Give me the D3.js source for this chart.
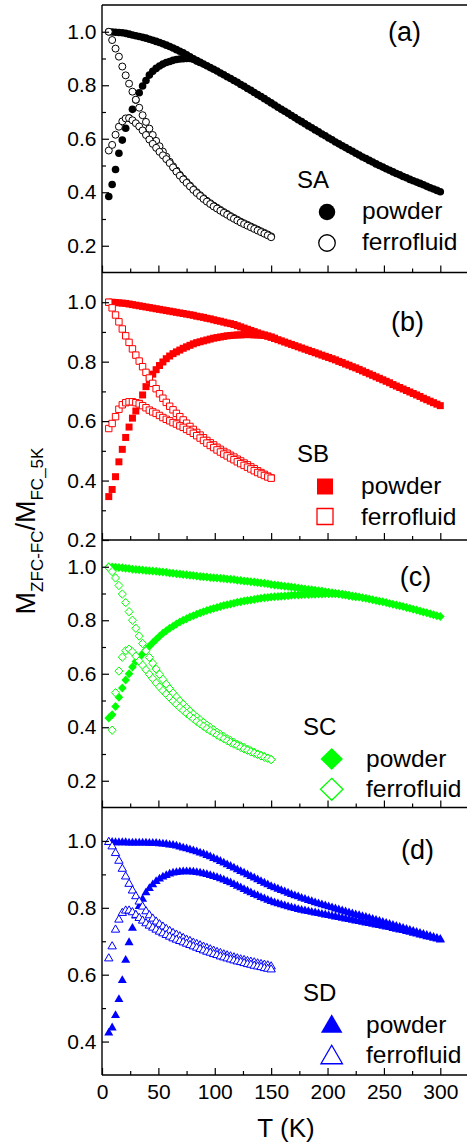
<!DOCTYPE html>
<html>
<head>
<meta charset="utf-8">
<script src="https://cdn.jsdelivr.net/npm/d3@7"></script>
<style>
  html, body { margin: 0; padding: 0; background: #fff; }
  svg { display: block; }
  text { font-family: "Liberation Sans", Arial, Helvetica, sans-serif; fill: #000; }
</style>
</head>
<body>
<svg id="chart" width="467" height="1147"></svg>
<script>
// ---- Temperature grids (K) ----
const powderT = [6,9,12,15,18,21,24,27,30,33,36,39,42,45,48,51,54,57,60,63,66,69,72,75,78,81,84,87,90,93,96,99,102,105,108,111,114,117,120,123,126,129,132,135,138,141,144,147,150,153,156,159,162,165,168,171,174,177,180,183,186,189,192,195,198,201,204,207,210,213,216,219,222,225,228,231,234,237,240,243,246,249,252,255,258,261,264,267,270,273,276,279,282,285,288,291,294,297,300];
const ferroT = [6,9,12,15,18,21,24,27,30,33,36,39,42,45,48,51,54,57,60,63,66,69,72,75,78,81,84,87,90,93,96,99,102,105,108,111,114,117,120,123,126,129,132,135,138,141,144,147,150];

// ---- Sample SA ----
const saPowderFC = [1.000,0.999,0.998,0.997,0.996,0.994,0.991,0.988,0.985,0.982,0.979,0.976,0.972,0.968,0.964,0.960,0.955,0.950,0.945,0.939,0.933,0.927,0.921,0.914,
  0.906,0.899,0.892,0.886,0.879,0.873,0.866,0.860,0.853,0.846,0.839,0.832,0.825,0.818,0.811,0.803,0.796,0.788,0.781,0.773,0.765,0.758,0.750,0.742,0.734,0.726,0.718,0.710,0.703,0.695,0.687,0.679,0.671,0.664,0.656,0.648,0.641,0.633,0.626,0.618,0.611,0.603,0.596,0.588,0.581,0.574,0.567,0.560,0.553,0.546,0.539,0.532,0.526,0.519,0.513,0.506,0.500,0.494,0.488,0.482,0.476,0.470,0.465,0.459,0.454,0.448,0.443,0.438,0.433,0.428,0.422,0.417,0.412,0.407,0.402];
const saPowderZFC = [0.384,0.429,0.485,0.546,0.595,0.639,0.677,0.710,0.745,0.772,0.797,0.818,0.838,0.852,0.863,0.872,0.879,0.885,0.889,0.893,0.896,0.898,0.899,0.900,0.900,0.897,0.891,0.885];
const saFerroFC = [1.000,0.969,0.937,0.907,0.870,0.837,0.806,0.776,0.746,0.716,0.688,0.663,0.638,0.614,0.592,0.572,0.552,0.533,0.514,0.497,0.481,0.465,0.451,0.438,0.425,0.412,0.400,0.389,0.378,0.368,0.359,0.350,0.342,0.334,0.326,0.319,0.311,0.304,0.297,0.290,0.284,0.278,0.272,0.266,0.260,0.254,0.248,0.242,0.235];
const saFerroZFC = [0.556,0.577,0.615,0.645,0.665,0.676,0.677,0.669,0.658,0.646,0.631,0.614,0.597,0.581,0.566,0.551,0.538,0.524,0.509,0.493,0.477,0.462,0.448,0.435,0.422,0.409,0.397,0.386,0.375,0.365,0.356,0.347,0.339,0.331,0.323,0.316,0.308,0.301,0.294,0.287,0.281,0.275,0.269,0.263,0.257,0.251,0.245,0.239,0.232];

// ---- Sample SB ----
const sbPowderFC = [1.000,1.000,0.999,0.998,0.997,0.996,0.994,0.992,0.990,0.988,0.986,0.984,0.982,0.980,0.978,0.976,0.974,0.972,
  0.970,0.968,0.966,0.964,0.962,0.960,0.958,0.956,0.953,0.951,
  0.949,0.946,0.944,0.941,0.938,0.936,0.933,0.930,0.928,0.925,
  0.921,0.917,0.913,0.909,0.905,0.901,0.897,0.893,0.890,0.886,0.882,
  0.878,0.874,0.870,0.866,0.862,0.858,0.854,0.850,0.846,0.842,0.838,0.834,0.830,0.826,0.822,0.818,0.814,0.810,0.806,
  0.801,0.797,0.792,0.788,0.783,0.779,0.774,0.769,0.764,0.759,0.754,0.749,0.744,0.739,0.734,0.729,0.723,0.718,0.713,0.708,
  0.703,0.698,0.693,0.688,0.683,0.677,0.672,0.667,0.662,0.657,0.652];
const sbPowderZFC = [0.346,0.370,0.413,0.463,0.505,0.545,0.580,0.610,0.634,0.660,0.688,0.716,0.740,0.758,0.773,0.787,0.799,0.810,0.819,0.827,0.833,0.839,0.845,0.850,0.855,0.860,0.864,0.867,0.870,0.873,0.876,0.879,0.881,0.883,0.885,0.887,0.888,0.889,0.890,0.890,0.891,0.891,0.891,0.890,0.890,0.889,0.888,0.886,0.883,0.879];
const sbFerroFC = [1.000,0.981,0.957,0.934,0.910,0.887,0.865,0.843,0.822,0.802,0.783,0.764,0.745,0.727,0.709,0.692,0.677,0.663,0.650,0.638,0.626,0.615,0.604,0.593,0.582,0.572,0.562,0.553,0.544,0.535,0.527,0.520,0.512,0.505,0.498,0.492,0.485,0.479,0.472,0.466,0.459,0.453,0.446,0.440,0.433,0.427,0.421,0.415,0.409];
const sbFerroZFC = [0.575,0.592,0.615,0.640,0.655,0.662,0.665,0.665,0.662,0.658,0.652,0.645,0.637,0.631,0.626,0.619,0.612,0.606,0.601,0.595,0.590,0.584,0.579,0.572,0.566,0.559,0.551,0.543,0.535,0.526,0.518,0.511,0.503,0.496,0.489,0.483,0.476,0.470,0.463,0.457,0.451,0.445,0.439,0.433,0.427,0.422,0.417,0.412,0.408];

// ---- Sample SC ----
const scPowderFC = [1.000,0.999,0.998,0.997,0.996,0.994,0.993,0.991,0.990,0.989,0.988,0.986,0.985,0.984,0.983,0.981,0.980,0.979,
  0.977,0.976,0.974,0.973,0.971,0.970,0.968,0.967,0.965,0.964,0.963,0.962,0.960,0.959,0.958,0.957,0.956,0.954,0.953,0.952,
  0.950,0.949,0.947,0.946,0.944,0.943,0.941,0.939,0.938,0.936,0.934,0.932,0.931,0.929,0.927,0.926,0.924,0.922,0.921,0.919,
  0.917,0.915,0.914,0.912,0.910,0.909,0.907,0.905,0.903,0.901,0.899,0.897,0.895,0.893,0.891,0.889,0.887,0.884,0.882,0.879,
  0.877,0.874,0.871,0.869,0.866,0.863,0.860,0.857,0.854,0.851,0.848,0.845,0.841,0.838,0.835,0.831,0.828,0.824,0.821,0.817,0.814];
const scPowderZFC = [0.435,0.447,0.478,0.512,0.547,0.577,0.600,0.625,0.646,0.661,0.675,0.689,0.703,0.716,0.728,0.740,0.751,0.761,
  0.770,0.778,0.786,0.793,0.800,0.806,0.812,0.817,0.822,0.827,0.832,0.836,0.840,0.844,0.848,0.851,0.855,0.858,0.861,0.864,
  0.867,0.869,0.872,0.874,0.876,0.878,0.880,0.882,0.884,0.885,0.887,0.888,0.889,0.890,0.891,0.892,0.893,0.894,0.894,0.895,
  0.896,0.896,0.897,0.897,0.898,0.898,0.899,0.899,0.899,0.899,0.898,0.896,0.894,0.892,0.890,0.888];
const scFerroFC = [0.997,0.982,0.958,0.930,0.898,0.866,0.832,0.800,0.770,0.741,0.713,0.686,0.661,0.639,0.618,0.598,0.579,0.561,0.544,0.528,0.513,0.499,0.486,0.473,0.461,0.449,0.438,0.428,0.418,0.408,0.399,0.390,0.381,0.373,0.365,0.357,0.350,0.343,0.336,0.330,0.324,0.318,0.312,0.306,0.300,0.295,0.290,0.285,0.280];
// zero-field-cooled ferrofluid run for SC starts at 9 K
const scFerroZFC = [0.389,0.529,0.610,0.662,0.686,0.692,0.682,0.666,0.648,0.632,0.615,0.598,0.582,0.566,0.551,0.537,0.524,0.511,0.498,0.486,0.474,0.463,0.452,0.442,0.432,0.422,0.413,0.404,0.395,0.387,0.379,0.371,0.364,0.357,0.350,0.343,0.337,0.331,0.325,0.319,0.314,0.308,0.303,0.298,0.293,0.288,0.284,0.279];

// ---- Sample SD ----
const sdPowderFC = [1.000,1.000,0.999,0.999,0.999,0.999,0.998,0.998,0.998,0.998,0.998,0.998,0.997,0.997,0.997,0.996,0.995,0.994,
  0.992,0.991,0.989,0.986,0.983,0.981,0.978,0.975,0.972,0.968,0.965,0.961,0.957,0.952,0.948,0.943,0.938,0.933,0.928,0.923,
  0.918,0.913,0.908,0.903,0.898,0.893,0.888,0.883,0.878,0.873,0.868,0.864,0.860,0.856,0.852,0.848,0.844,0.840,0.837,0.833,
  0.830,0.826,0.823,0.819,0.816,0.813,0.810,0.807,0.804,0.801,0.798,0.795,0.792,0.789,0.786,0.783,0.781,0.778,0.776,0.773,
  0.770,0.767,0.764,0.761,0.758,0.755,0.752,0.749,0.746,0.743,0.740,0.737,0.734,0.731,0.728,0.725,0.722,0.719,0.716,0.713,0.710];
const sdPowderZFC = [0.430,0.445,0.482,0.530,0.587,0.647,0.700,0.743,0.780,0.808,0.830,0.849,0.862,0.873,0.883,0.890,0.896,0.901,
  0.905,0.908,0.910,0.911,0.912,0.912,0.912,0.911,0.910,0.908,0.906,0.904,0.901,0.898,0.895,0.891,0.887,0.883,0.879,0.874,
  0.869,0.864,0.859,0.854,0.849,0.844,0.840,0.835,0.831,0.827,0.823,0.819,0.816,0.813,0.810,0.807,0.804,0.802,0.799,0.797,
  0.795,0.793,0.791,0.789,0.787,0.785,0.783,0.781,0.779,0.777,0.775,0.773,0.771,0.769,0.767,0.765,0.763,0.761,0.759,0.757,
  0.755,0.753,0.751,0.749,0.747,0.745,0.742,0.740,0.738,0.736,0.733,0.731,0.728,0.726,0.723,0.721,0.718,0.716,0.713,0.711,0.708];
const sdFerroFC = [1.000,0.987,0.967,0.944,0.920,0.897,0.875,0.855,0.838,0.822,0.807,0.793,0.781,0.771,0.762,0.754,0.747,0.740,0.734,0.728,0.723,0.718,0.713,0.708,0.704,0.699,0.695,0.691,0.687,0.683,0.679,0.675,0.671,0.668,0.664,0.661,0.658,0.655,0.652,0.649,0.647,0.644,0.642,0.640,0.637,0.635,0.633,0.631,0.628];
const sdFerroZFC = [0.652,0.688,0.738,0.768,0.788,0.795,0.795,0.790,0.782,0.773,0.765,0.757,0.750,0.744,0.738,0.732,0.727,0.722,0.717,0.712,0.708,0.704,0.700,0.696,0.692,0.688,0.684,0.680,0.676,0.672,0.669,0.665,0.662,0.658,0.655,0.652,0.649,0.646,0.643,0.641,0.638,0.635,0.633,0.630,0.628,0.626,0.623,0.621,0.619];

// ---- Labels and tick text ----
const sampleNames = ["SA", "SB", "SC", "SD"];
const panelTags = ["(a)", "(b)", "(c)", "(d)"];
const seriesNames = ["powder", "ferrofluid"];
const sampleColors = ["#000000", "#ff0000", "#00ff00", "#0000ff"];
const sampleShapes = ["circle", "square", "diamond", "triangle"];
const yDomains = [[0.1, 1.1], [0.2, 1.1], [0.1, 1.1], [0.3, 1.1]];
const yTickLabels = [
  ["0.2", "0.4", "0.6", "0.8", "1.0"],
  ["0.2", "0.4", "0.6", "0.8", "1.0"],
  ["0.2", "0.4", "0.6", "0.8", "1.0"],
  ["0.4", "0.6", "0.8", "1.0"]
];
const yMinorTicks = [[0.3, 0.5, 0.7, 0.9], [0.3, 0.5, 0.7, 0.9], [0.3, 0.5, 0.7, 0.9], [0.5, 0.7, 0.9]];
const xTickLabels = ["0", "50", "100", "150", "200", "250", "300"];
const xMinorTicks = [25, 75, 125, 175, 225, 275];
const xTitle = "T (K)";
// [text, is subscript]
const yTitleParts = [["M", false], ["ZFC-FC", true], ["/M", false], ["FC_5K", true]];

// per-panel series: [T grid, values, filled?]
const panelSeries = [
  [[powderT, saPowderFC, true], [powderT, saPowderZFC, true], [ferroT, saFerroFC, false], [ferroT, saFerroZFC, false]],
  [[powderT, sbPowderFC, true], [powderT, sbPowderZFC, true], [ferroT, sbFerroFC, false], [ferroT, sbFerroZFC, false]],
  [[powderT, scPowderFC, true], [powderT, scPowderZFC, true], [ferroT, scFerroFC, false], [ferroT.slice(1), scFerroZFC, false]],
  [[powderT, sdPowderFC, true], [powderT, sdPowderZFC, true], [ferroT, sdFerroFC, false], [ferroT, sdFerroZFC, false]]
];

// ---- Layout ----
const plotLeft = 102, plotRight = 467, plotTop = 5, panelH = 267.5;
const legendLayout = [
  { tag: [404.5, 36],   title: [297, 183.3], mark: 327,   text: 362, rows: [207, 238],   base: [214, 245] },
  { tag: [407.5, 58],   title: [297, 189.3], mark: 325,   text: 361, rows: [214, 244],   base: [221.5, 252.5] },
  { tag: [415.5, 46],   title: [303, 195],   mark: 331.7, text: 366, rows: [219, 249.3], base: [226.5, 257] },
  { tag: [417.5, 51.5], title: [303, 193.7], mark: 331.7, text: 366, rows: [216, 247],   base: [225, 255.5] }
];
const plotMarkSize = { circle: [7.6, 7.6], square: [7, 7], diamond: [8.6, 9], triangle: [9, 7.8] };
const legendMarkSize = { circle: [16.5, 16.5], square: [16, 16], diamond: [22.5, 22], triangle: [21.5, 18.5] };

function markerPath(shape, w, h) {
  const a = w / 2, b = h / 2;
  switch (shape) {
    case "circle":
      return `M${-a},0A${a},${a} 0 1,0 ${a},0A${a},${a} 0 1,0 ${-a},0Z`;
    case "square":
      return `M${-a},${-b}H${a}V${b}H${-a}Z`;
    case "diamond":
      return `M0,${-b}L${a},0L0,${b}L${-a},0Z`;
    case "triangle":
      return `M0,${-b}L${a},${b}L${-a},${b}Z`;
  }
}

const svg = d3.select("#chart");
const x = d3.scaleLinear().domain([0, 300]).range([plotLeft, 440.3]);

panelSeries.forEach((seriesList, i) => {
  const top = plotTop + i * panelH;
  const bottom = top + panelH;
  const y = d3.scaleLinear().domain(yDomains[i]).range([bottom, top]);
  const color = sampleColors[i];
  const shape = sampleShapes[i];
  const g = svg.append("g");

  // data markers: powder (filled) first, ferrofluid (open) on top
  seriesList.forEach(([tGrid, vals, filled]) => {
    const [w, h] = plotMarkSize[shape];
    const d = markerPath(shape, filled ? w : w - 0.6, filled ? h : h - 0.6);
    g.append("g").selectAll("path")
      .data(vals.map((v, k) => [tGrid[k], v]))
      .join("path")
      .attr("d", d)
      .attr("transform", p => `translate(${x(p[0])},${y(p[1])})`)
      .attr("fill", filled ? color : "#ffffff")
      .attr("stroke", filled ? "none" : color)
      .attr("stroke-width", 1);
  });

  // left axis ticks (pointing inward)
  const yMajor = yTickLabels[i].map(Number);
  const gy = g.append("g").attr("transform", `translate(${plotLeft},0)`)
    .call(d3.axisLeft(y).tickValues(yMajor).tickSize(-7).tickPadding(5.5)
      .tickFormat((d, k) => yTickLabels[i][k]));
  const gyMinor = g.append("g").attr("transform", `translate(${plotLeft},0)`)
    .call(d3.axisLeft(y).tickValues(yMinorTicks[i]).tickSize(-4).tickFormat(""));

  // bottom axis ticks (pointing inward), labels only on the lowest panel
  const xMajor = xTickLabels.map(Number);
  const gx = g.append("g").attr("transform", `translate(0,${bottom})`)
    .call(d3.axisBottom(x).tickValues(xMajor).tickSize(-7).tickPadding(9)
      .tickFormat((d, k) => (i === 3 ? xTickLabels[k] : "")));
  const gxMinor = g.append("g").attr("transform", `translate(0,${bottom})`)
    .call(d3.axisBottom(x).tickValues(xMinorTicks).tickSize(-4).tickFormat(""));

  [gy, gyMinor, gx, gxMinor].forEach(ax => {
    ax.select(".domain").remove();
    ax.attr("font-size", 21).attr("font-family", null);
    ax.selectAll("line").attr("stroke", "#000").attr("stroke-width", 1.2);
    ax.selectAll("text").attr("fill", "#000");
  });

  // horizontal frame line at the panel bottom
  g.append("line")
    .attr("x1", plotLeft).attr("x2", plotRight)
    .attr("y1", bottom).attr("y2", bottom)
    .attr("stroke", "#000").attr("stroke-width", 1.4);

  // panel tag
  const L = legendLayout[i];
  g.append("text")
    .attr("x", L.tag[0]).attr("y", top + L.tag[1])
    .attr("text-anchor", "middle").attr("font-size", 27)
    .text(panelTags[i]);

  // legend
  g.append("text")
    .attr("x", L.title[0]).attr("y", top + L.title[1])
    .attr("font-size", 24)
    .text(sampleNames[i]);
  seriesNames.forEach((name, r) => {
    const [w, h] = legendMarkSize[shape];
    g.append("path")
      .attr("d", markerPath(shape, w, h))
      .attr("transform", `translate(${L.mark},${top + L.rows[r]})`)
      .attr("fill", r === 0 ? color : "#ffffff")
      .attr("stroke", r === 0 ? "none" : color)
      .attr("stroke-width", 1.3);
    g.append("text")
      .attr("x", L.text).attr("y", top + L.base[r])
      .attr("font-size", 24.5)
      .text(name);
  });
});

// top frame line and the shared left axis line
svg.append("line")
  .attr("x1", plotLeft).attr("x2", plotRight)
  .attr("y1", plotTop).attr("y2", plotTop)
  .attr("stroke", "#000").attr("stroke-width", 1.4);
svg.append("line")
  .attr("x1", plotLeft).attr("x2", plotLeft)
  .attr("y1", plotTop).attr("y2", plotTop + 4 * panelH)
  .attr("stroke", "#000").attr("stroke-width", 1.4);

// axis titles
svg.append("text")
  .attr("x", 286).attr("y", 1137)
  .attr("text-anchor", "middle").attr("font-size", 26)
  .text(xTitle);

const yTitle = svg.append("text")
  .attr("transform", "translate(35,531) rotate(-90)")
  .attr("text-anchor", "middle").attr("font-size", 27);
yTitleParts.forEach(([part, sub]) => {
  yTitle.append("tspan")
    .attr("font-size", sub ? 17 : null)
    .attr("dy", sub ? 8 : -8)
    .text(part);
});
yTitle.select("tspan").attr("dy", null);
</script>
</body>
</html>
